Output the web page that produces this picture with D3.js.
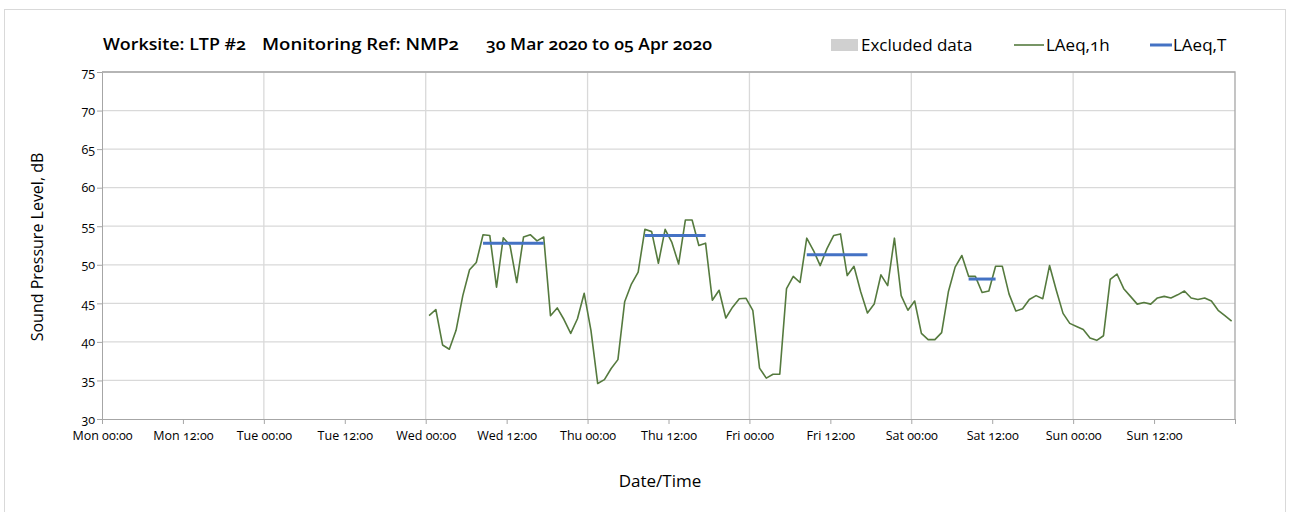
<!DOCTYPE html>
<meta charset="utf-8">
<script src="https://d3js.org/d3.v7.min.js"></script>
<style>
body { margin: 0; background: #fff; }
text { font-family: "Open Sans", Lato, sans-serif; fill: #000; font-variant-numeric: oldstyle-nums; font-feature-settings: "onum" 1; }
.grid line { stroke: #d9d9d9; stroke-width: 1.3; }
.axis path, .axis line { stroke: #a6a6a6; }
</style>
<body>
<script>
// hourly LAeq,1h values, first one at Wed 01 Apr 00:30
var firstHour = "2020-04-01T00:30";
var laeq1h = [
  43.4, 44.2, 39.6, 39.05, 41.5, 46.0, 49.35, 50.3, 53.9, 53.8,
  47.1, 53.5, 52.5, 47.7, 53.6, 53.9, 53.1, 53.6, 43.4, 44.4,
  42.9, 41.1, 43.0, 46.3, 41.5, 34.6, 35.1, 36.55, 37.7, 45.2,
  47.5, 49.05, 54.6, 54.3, 50.2, 54.6, 52.9, 50.1, 55.8, 55.8,
  52.5, 52.8, 45.4, 46.7, 43.1, 44.5, 45.6, 45.65, 44.1, 36.6,
  35.3, 35.8, 35.8, 46.9, 48.5, 47.7, 53.45, 51.85, 49.9, 52.1,
  53.8, 54.0, 48.6, 49.8, 46.5, 43.75, 44.9, 48.7, 47.3, 53.45,
  46.0, 44.1, 45.3, 41.1, 40.3, 40.3, 41.2, 46.5, 49.7, 51.2,
  48.5, 48.5, 46.4, 46.6, 49.8, 49.8, 46.2, 44.0, 44.3, 45.5,
  46.0, 45.6, 49.9, 46.7, 43.7, 42.4, 42.0, 41.6, 40.5, 40.2,
  40.8, 48.1, 48.8, 46.9, 45.9, 44.9, 45.1, 44.9, 45.7, 45.9,
  45.7, 46.1, 46.6, 45.7, 45.5, 45.7, 45.3, 44.1, 43.4, 42.7
];

// LAeq,T periods
var periodStart = ["2020-04-01T08:30", "2020-04-02T08:30", "2020-04-03T08:30", "2020-04-04T08:30"];
var periodEnd   = ["2020-04-01T17:30", "2020-04-02T17:30", "2020-04-03T17:30", "2020-04-04T12:30"];
var periodValue = [52.8, 53.8, 51.3, 48.15];

var yTicks = [30, 35, 40, 45, 50, 55, 60, 65, 70, 75];
var titleParts = ["Worksite: LTP #2", "Monitoring Ref: NMP2", "30 Mar 2020 to 05 Apr 2020"];

var width = 1299, height = 512;
var parse = d3.utcParse("%Y-%m-%dT%H:%M");

var svg = d3.select("body").append("svg")
    .attr("width", width)
    .attr("height", height);

// outer frame
svg.append("rect")
    .attr("x", 4.5).attr("y", 9.5)
    .attr("width", 1281).attr("height", 520)
    .attr("fill", "none").attr("stroke", "#d9d9d9");

var x = d3.scaleUtc()
    .domain([Date.UTC(2020, 2, 30), Date.UTC(2020, 3, 6)])
    .range([102, 1235]);
var y = d3.scaleLinear().domain([30, 75]).range([419, 72]);

// grid
var grid = svg.append("g").attr("class", "grid");
grid.selectAll(".h").data(yTicks.slice(1)).enter().append("line")
    .attr("x1", x.range()[0]).attr("x2", x.range()[1])
    .attr("y1", function(d) { return y(d); }).attr("y2", function(d) { return y(d); });
grid.selectAll(".v").data(x.ticks(d3.utcDay.every(1)).slice(1, -1)).enter().append("line")
    .attr("x1", function(d) { return x(d); }).attr("x2", function(d) { return x(d); })
    .attr("y1", y.range()[0]).attr("y2", y.range()[1]);

// plot border top + right
svg.append("path")
    .attr("d", "M" + x.range()[0] + "," + y(75) + "H" + x.range()[1] + "V" + y(30))
    .attr("fill", "none").attr("stroke", "#a6a6a6").attr("stroke-width", 1.3);

// axes
var xAxis = d3.axisBottom(x)
    .ticks(d3.utcHour.every(12))
    .tickFormat(d3.utcFormat("%a %H:%M"))
    .tickSizeInner(5).tickSizeOuter(5);
var gx = svg.append("g").attr("class", "axis")
    .attr("transform", "translate(0," + y(30) + ")")
    .call(xAxis);
gx.selectAll("text").attr("font-size", 12.5).attr("dy", "1.05em")
    .filter(function(d) { return +d === +x.domain()[1]; }).remove();

var gy = svg.append("g").attr("class", "axis")
    .attr("transform", "translate(" + x(x.domain()[0]) + ",0)")
    .call(d3.axisLeft(y).tickValues(yTicks).tickSizeInner(5).tickSizeOuter(0));
gy.selectAll("text").attr("font-size", 12.5).attr("x", -7);
svg.selectAll(".axis text").style("font-family", "'Open Sans', sans-serif");

// LAeq,1h
var line = d3.line()
    .x(function(d, i) { return x(d3.utcHour.offset(parse(firstHour), i)); })
    .y(function(d) { return y(d); });
svg.append("path")
    .datum(laeq1h)
    .attr("d", line)
    .attr("fill", "none")
    .attr("stroke", "#557a3e")
    .attr("stroke-width", 1.6)
    .attr("stroke-linejoin", "round");

// LAeq,T
svg.selectAll(".laeqt").data(periodValue).enter().append("line")
    .attr("x1", function(d, i) { return x(parse(periodStart[i])); })
    .attr("x2", function(d, i) { return x(parse(periodEnd[i])); })
    .attr("y1", function(d) { return y(d); })
    .attr("y2", function(d) { return y(d); })
    .attr("stroke", "#4472c4")
    .attr("stroke-width", 3);

// title
var titleX = [103, 262, 486];
var titleW = [143, 197, 226];
svg.selectAll(".title").data(titleParts).enter().append("text")
    .attr("x", function(d, i) { return titleX[i]; })
    .attr("y", 50)
    .attr("font-size", 15.5)
    .attr("font-weight", 600)
    .attr("textLength", function(d, i) { return titleW[i]; })
    .attr("lengthAdjust", "spacingAndGlyphs")
    .text(function(d) { return d; });

// legend
var legend = svg.append("g");
legend.append("rect").attr("x", 831).attr("y", 39).attr("width", 27).attr("height", 12).attr("fill", "#d0d0d0");
legend.append("text").attr("x", 861).attr("y", 51).attr("font-size", 17).text("Excluded data");
legend.append("line").attr("x1", 1014).attr("x2", 1044).attr("y1", 45).attr("y2", 45)
    .attr("stroke", "#557a3e").attr("stroke-width", 1.6);
legend.append("text").attr("x", 1046).attr("y", 51).attr("font-size", 17).text("LAeq,1h");
legend.append("line").attr("x1", 1150).attr("x2", 1172).attr("y1", 45).attr("y2", 45)
    .attr("stroke", "#4472c4").attr("stroke-width", 3);
legend.append("text").attr("x", 1173).attr("y", 51).attr("font-size", 17).text("LAeq,T");

// axis titles
svg.append("text")
    .attr("transform", "translate(43,247) rotate(-90)")
    .attr("text-anchor", "middle")
    .attr("font-size", 16)
    .text("Sound Pressure Level, dB");
svg.append("text")
    .attr("x", 660).attr("y", 487)
    .attr("text-anchor", "middle")
    .attr("font-size", 17)
    .text("Date/Time");
</script>
</body>
